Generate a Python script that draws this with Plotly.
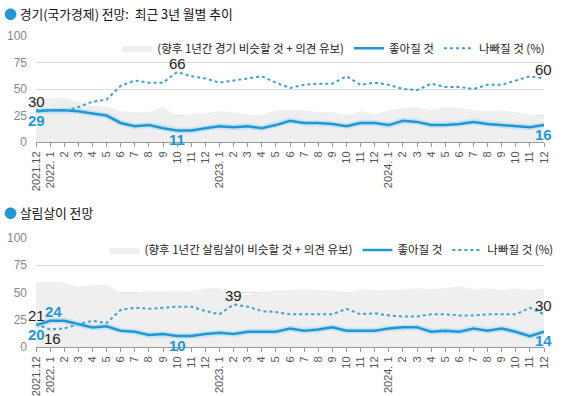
import plotly.graph_objects as go

# ---- data ----
tick_labels = ["2021.12", "2022. 1", "2", "3", "4", "5", "6", "7", "8", "9", "10", "11", "12",
               "2023. 1", "2", "3", "4", "5", "6", "7", "8", "9", "10", "11", "12",
               "2024. 1", "2", "3", "4", "5", "6", "7", "8", "9", "10", "11", "12"]
months = list(range(len(tick_labels)))

# 경기(국가경제) 전망
econ_good = [29, 30, 30, 29, 27, 25, 18, 15, 16, 13, 11, 11, 13, 15, 14, 15, 13, 16, 20,
             18, 18, 17, 15, 18, 18, 16, 20, 19, 16, 16, 17, 19, 17, 16, 15, 14, 16]
econ_bad = [30, 30, 29, 33, 38, 40, 53, 58, 56, 56, 66, 62, 60, 56, 58, 60, 62, 56, 51,
            54, 55, 55, 62, 54, 56, 54, 50, 49, 55, 52, 52, 50, 54, 54, 58, 62, 60]
econ_same = [41, 41, 42, 38, 34, 34, 29, 28, 28, 33, 24, 27, 27, 29, 28, 26, 26, 30, 30,
             30, 28, 28, 25, 29, 26, 30, 32, 33, 30, 33, 32, 30, 29, 30, 28, 26, 24]

# 살림살이 전망
life_good = [20, 24, 24, 21, 18, 19, 15, 14, 11, 12, 10, 10, 12, 13, 12, 14, 14, 14, 17,
             15, 16, 18, 15, 15, 15, 17, 18, 18, 14, 15, 14, 17, 15, 17, 14, 10, 14]
life_bad = [21, 16, 17, 21, 24, 22, 34, 36, 35, 36, 37, 37, 33, 30, 39, 37, 33, 32, 30,
            30, 30, 30, 35, 30, 31, 29, 28, 28, 30, 30, 29, 29, 30, 30, 30, 36, 30]
life_same = [59, 60, 59, 55, 57, 57, 50, 50, 52, 51, 52, 51, 54, 54, 47, 48, 51, 52, 52,
             53, 52, 52, 50, 53, 52, 52, 53, 54, 53, 54, 56, 53, 54, 52, 54, 52, 54]

title1 = "경기(국가경제) 전망:  최근 3년 월별 추이"
title2 = "살림살이 전망"
same1_name = "(향후 1년간 경기 비슷할 것 + 의견 유보)"
same2_name = "(향후 1년간 살림살이 비슷할 것 + 의견 유보)"
good_name = "좋아질 것"
bad_name = "나빠질 것 (%)"

# ---- style ----
BLUE = "#1f97d4"
DOT = "#3d9fd2"
GRAY_FILL = "#efefef"
FONT = "Noto Sans CJK KR"

fig = go.Figure()

def add_panel(xa, ya, legend, same, good, bad, same_name):
    fig.add_trace(go.Scatter(x=months, y=same, mode="lines", fill="tozeroy",
                             fillcolor=GRAY_FILL, line=dict(width=0, color=GRAY_FILL),
                             name=same_name, xaxis=xa, yaxis=ya, legend=legend,
                             hoverinfo="skip"))
    fig.add_trace(go.Scatter(x=months, y=good, mode="lines",
                             line=dict(width=6, color="rgba(130,205,240,0.35)"),
                             showlegend=False, xaxis=xa, yaxis=ya, hoverinfo="skip"))
    fig.add_trace(go.Scatter(x=months, y=good, mode="lines",
                             line=dict(width=2.5, color=BLUE),
                             name=good_name, xaxis=xa, yaxis=ya, legend=legend))
    fig.add_trace(go.Scatter(x=months, y=bad, mode="lines",
                             line=dict(width=2, color=DOT, dash="dot"),
                             name=bad_name, xaxis=xa, yaxis=ya, legend=legend))

add_panel("x", "y", "legend", econ_same, econ_good, econ_bad, same1_name)
add_panel("x2", "y2", "legend2", life_same, life_good, life_bad, same2_name)

axis_x = dict(range=[0, 36], tickmode="array", tickvals=months, ticktext=tick_labels,
              tickangle=-90, ticks="outside", ticklen=4, tickcolor="#999",
              showline=True, linecolor="#999", linewidth=1, showgrid=False,
              tickfont=dict(family="Liberation Sans Narrow, Arial Narrow, Liberation Sans", size=11, color="#555"),
              zeroline=False, fixedrange=True, automargin=False)
axis_y = dict(range=[0, 100], tickvals=[0, 25, 50, 75, 100], showgrid=True,
              gridcolor="#d9d9d9", gridwidth=1, zeroline=False, showline=False,
              tickfont=dict(family="Liberation Sans", size=12, color="#888"),
              ticklabelstandoff=8, fixedrange=True, automargin=False)

legend_style = dict(orientation="h", x=0.16, xanchor="left", yanchor="middle",
                    bgcolor="rgba(0,0,0,0)", font=dict(family=FONT, size=11.5, color="#222"),
                    itemwidth=30, tracegroupgap=0)

fig.update_layout(
    width=574, height=396,
    margin=dict(l=36, r=30, t=36, b=49, autoexpand=False),
    paper_bgcolor="white", plot_bgcolor="white",
    font=dict(family=FONT, color="#222"),
    xaxis=dict(axis_x, domain=[0, 1], anchor="y"),
    yaxis=dict(axis_y, domain=[0.659, 1], anchor="x"),
    xaxis2=dict(axis_x, domain=[0, 1], anchor="y2"),
    yaxis2=dict(axis_y, domain=[0, 0.3505], anchor="x2"),
    legend=dict(legend_style, y=0.961),
    legend2=dict(legend_style, y=0.312, x=0.135),
    showlegend=True,
    hovermode=False,
)

# titles
for ty, txt in [(1.071, title1), (0.431, title2)]:
    fig.add_annotation(xref="paper", yref="paper", x=-0.066, y=ty, xanchor="left",
                       yanchor="middle", showarrow=False,
                       text=f"<span style='color:{BLUE}'>●</span> {txt}",
                       font=dict(family=FONT, size=12.8, color="#111"))

# data labels
LABEL_FONT = "Liberation Sans Narrow, Arial Narrow, Liberation Sans"
def label(xa, ya, series, i, above, color, xshift=0, bold=False):
    txt = f"<b>{series[i]}</b>" if bold else str(series[i])
    fig.add_annotation(xref=xa, yref=ya, x=months[i], y=series[i], text=txt,
                       showarrow=False, yshift=9 if above else -9, xshift=xshift,
                       font=dict(family=LABEL_FONT, size=15, color=color))

label("x", "y", econ_bad, 0, True, "#222")
label("x", "y", econ_good, 0, False, BLUE, bold=True)
label("x", "y", econ_bad, 10, True, "#222")
label("x", "y", econ_good, 10, False, BLUE, bold=True)
label("x", "y", econ_bad, 36, True, "#222", xshift=-1)
label("x", "y", econ_good, 36, False, BLUE, xshift=-1, bold=True)

label("x2", "y2", life_bad, 0, True, "#222")
label("x2", "y2", life_good, 0, False, BLUE, bold=True)
label("x2", "y2", life_good, 1, True, BLUE, xshift=3, bold=True)
label("x2", "y2", life_bad, 1, False, "#222", xshift=2)
label("x2", "y2", life_bad, 14, True, "#222")
label("x2", "y2", life_good, 10, False, BLUE, bold=True)
label("x2", "y2", life_bad, 36, True, "#222", xshift=-1)
label("x2", "y2", life_good, 36, False, BLUE, xshift=-1, bold=True)

fig.write_html("out.html", config={"displayModeBar": False, "staticPlot": True},
               post_script="document.body.style.margin='0';")
